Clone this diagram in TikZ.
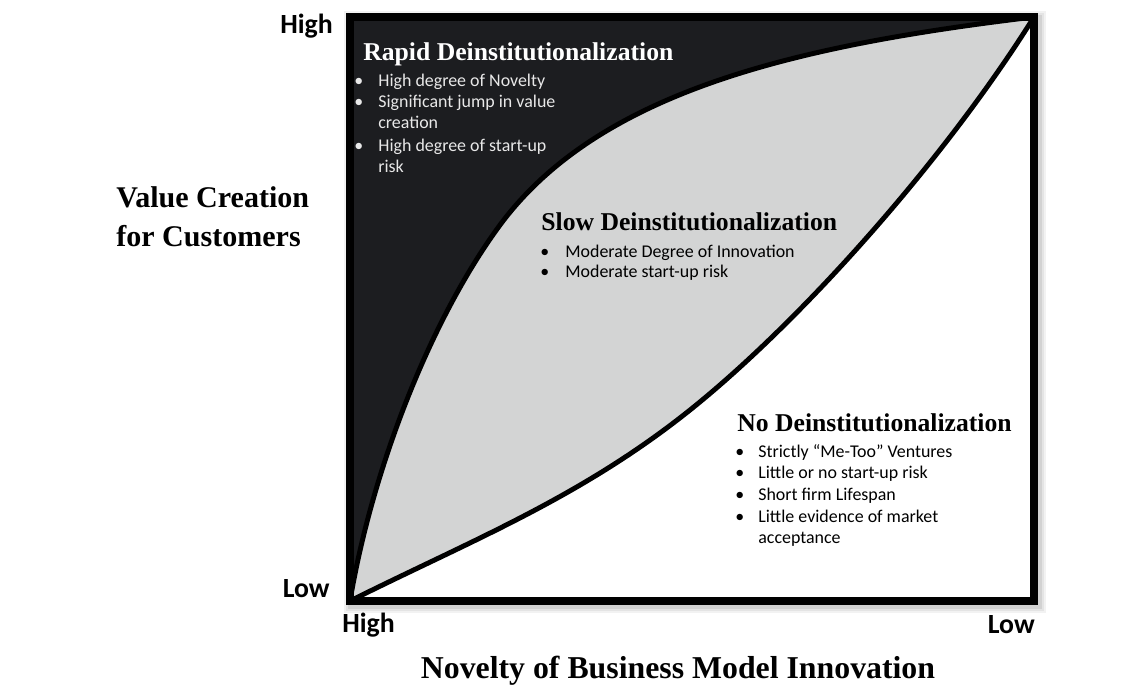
\documentclass[tikz,border=0pt]{standalone}
\usepackage{fontspec}
\setmainfont{Liberation Serif}
\newfontfamily\calibri{Carlito}
\definecolor{darkfill}{HTML}{1C1D20}
\definecolor{grayfill}{HTML}{D3D4D4}
\definecolor{lighttext}{HTML}{E8E8E8}
\tikzset{
  bl/.style={font=\calibri\fontsize{10.2}{12}\selectfont, anchor=base west, inner sep=0pt},
  hd/.style={font=\bfseries\fontsize{14.6}{17}\selectfont, anchor=base west, inner sep=0pt},
  axl/.style={font=\calibri\bfseries\fontsize{15.8}{18}\selectfont, inner sep=0pt},
  axt/.style={font=\bfseries\fontsize{17.1}{20}\selectfont, inner sep=0pt},
  lt/.style={text=lighttext},
  curve/.style={line width=2.8pt, line join=round},
  frame/.style={line width=4pt, line join=miter},
}
\begin{document}
\begin{tikzpicture}[x=0.02cm,y=-0.02cm]
\useasboundingbox (0,0) rectangle (1140,687);
% corners
\coordinate (bl) at (350,601);
\coordinate (tr) at (1034,17);
% shadow
\foreach \w/\o in {10/0.05, 8/0.06, 6/0.08}
  \draw[black, opacity=\o, line width=\w pt] (353,20) rectangle (1037,604);
% regions
\fill[grayfill] (350,17) rectangle (1034,601);
\fill[white] (bl) .. controls (470,541) and (580,498) .. (690,410) .. controls (800,322) and (944,161) .. (tr) -- (1034,601) -- cycle;
\fill[darkfill] (bl) .. controls (372,470) and (430,320) .. (500,225) .. controls (600,90) and (800,45) .. (tr) -- (350,17) -- cycle;
% curves
\draw[curve] (bl) .. controls (470,541) and (580,498) .. (690,410) .. controls (800,322) and (944,161) .. (tr);
\draw[curve] (bl) .. controls (372,470) and (430,320) .. (500,225) .. controls (600,90) and (800,45) .. (tr);
% frame
\draw[frame] (350,17) rectangle (1034,601);

% Rapid
\node[hd, text=white] (rt) at (363,60) {Rapid Deinstitutionalization};
\node[bl, lt] (r1b) at (354,86) {•};
\node[bl, lt] (r1) at (378,86) {High degree of Novelty};
\node[bl, lt] (r2b) at (354,107) {•};
\node[bl, lt] (r2) at (378,107) {Significant jump in value};
\node[bl, lt] (r2c) at (378,128) {creation};
\node[bl, lt] (r3b) at (354,151) {•};
\node[bl, lt] (r3) at (378,151) {High degree of start-up};
\node[bl, lt] (r3c) at (378,172) {risk};

% Slow
\node[hd] (st) at (541,230) {Slow Deinstitutionalization};
\node[bl] (s1b) at (540,257) {•};
\node[bl] (s1) at (565,257) {Moderate Degree of Innovation};
\node[bl] (s2b) at (540,277) {•};
\node[bl] (s2) at (565,277) {Moderate start-up risk};

% No
\node[hd] (nt) at (737,431) {No Deinstitutionalization};
\node[bl] (n1b) at (735,457) {•};
\node[bl] (n1) at (758,457) {Strictly “Me-Too” Ventures};
\node[bl] (n2b) at (735,478) {•};
\node[bl] (n2) at (758,478) {Little or no start-up risk};
\node[bl] (n3b) at (735,500) {•};
\node[bl] (n3) at (758,500) {Short firm Lifespan};
\node[bl] (n4b) at (735,522) {•};
\node[bl] (n4) at (758,522) {Little evidence of market};
\node[bl] (n4c) at (758,543) {acceptance};

% axis labels
\node[axl, anchor=base east] (yhigh) at (333,33) {High};
\node[axl, anchor=base east] (ylow) at (330,597) {Low};
\node[axl, anchor=base west] (xhigh) at (342,632) {High};
\node[axl, anchor=base east] (xlow) at (1035,633) {Low};
\node[axt, anchor=base west] (yt1) at (116,207) {Value Creation};
\node[axt, anchor=base west] (yt2) at (116,246) {for Customers};
\node[axt, anchor=base, font=\bfseries\fontsize{18.1}{21}\selectfont] (xt) at (678,678) {Novelty of Business Model Innovation};
\end{tikzpicture}
\end{document}
